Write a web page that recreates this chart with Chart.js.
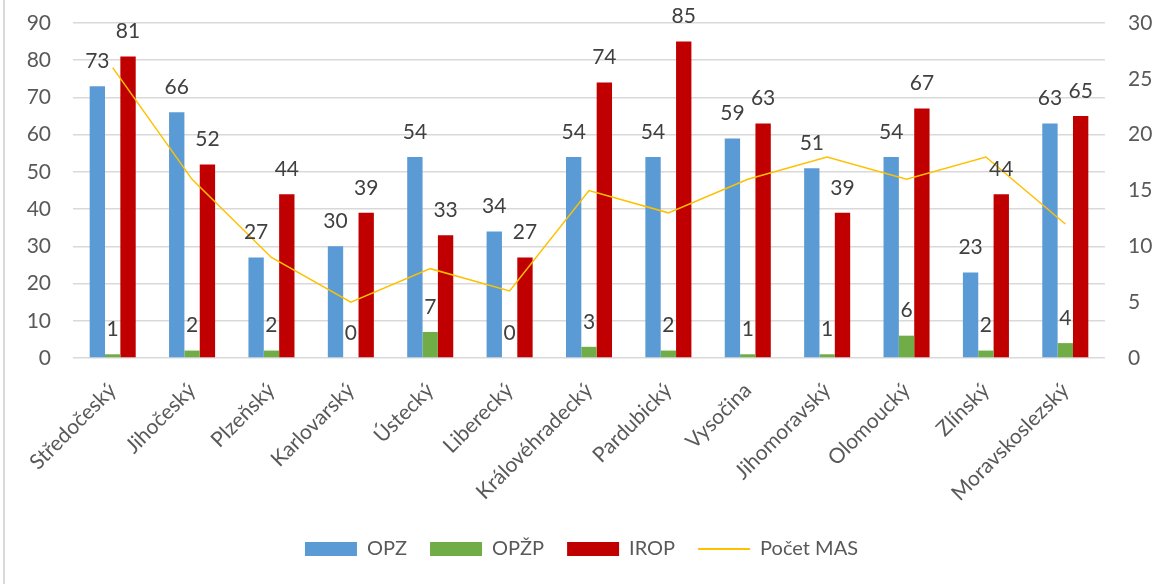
<!DOCTYPE html>
<html>
<head>
<meta charset="utf-8">
<script src="https://cdn.jsdelivr.net/npm/chart.js@4/dist/chart.umd.min.js"></script>
<style>
  html, body { margin: 0; padding: 0; background: #fff; }
  #wrap { width: 1163px; height: 584px; position: relative; }
</style>
</head>
<body>
<div id="wrap"><canvas id="chart" width="1163" height="584"></canvas></div>
<script>
// data
var regions = ["Středočeský", "Jihočeský", "Plzeňský", "Karlovarský", "Ústecký", "Liberecký",
  "Královéhradecký", "Pardubický", "Vysočina", "Jihomoravský", "Olomoucký", "Zlínský", "Moravskoslezský"];
var opz   = [73, 66, 27, 30, 54, 34, 54, 54, 59, 51, 54, 23, 63];
var opzp  = [1, 2, 2, 0, 7, 0, 3, 2, 1, 1, 6, 2, 4];
var irop  = [81, 52, 44, 39, 33, 27, 74, 85, 63, 39, 67, 44, 65];
var pocetMas = [26, 16, 9, 5, 8, 6, 15, 13, 16, 18, 16, 18, 12];

var FONT = "Lato";
var TXT = "#595959";

// value labels above the bars
var barLabels = {
  id: "barLabels",
  afterDatasetsDraw: function(chart) {
    var ctx = chart.ctx;
    ctx.save();
    ctx.font = "21px " + FONT;
    ctx.fillStyle = "#404040";
    ctx.textAlign = "center";
    ctx.textBaseline = "middle";
    chart.data.datasets.forEach(function(ds, i) {
      if (ds.type === "line") return;
      var meta = chart.getDatasetMeta(i);
      meta.data.forEach(function(bar, j) {
        ctx.fillText(ds.data[j], bar.x, bar.y - 25);
      });
    });
    ctx.restore();
  }
};

// light frame edge on the left
var frame = {
  id: "frame",
  beforeDraw: function(chart) {
    var ctx = chart.ctx;
    ctx.save();
    ctx.fillStyle = "#d9d9d9";
    ctx.fillRect(3, 0, 2, chart.height);
    ctx.restore();
  }
};

// fixed widths for the value axes, without the extra tick padding on top
function fixSide(w) {
  return function(scale) {
    scale.width = w;
    scale.paddingTop = 11;
    scale.paddingBottom = 11;
  };
}

var ctx = document.getElementById("chart").getContext("2d");
var chart = new Chart(ctx, {
  data: {
    labels: regions,
    datasets: [
      { type: "bar", label: "OPZ", data: opz, backgroundColor: "#5B9BD5", yAxisID: "y", order: 1 },
      { type: "bar", label: "OPŽP", data: opzp, backgroundColor: "#70AD47", yAxisID: "y", order: 1 },
      { type: "bar", label: "IROP", data: irop, backgroundColor: "#C00000", yAxisID: "y", order: 1 },
      { type: "line", label: "Počet MAS", data: pocetMas, borderColor: "#FFC000", backgroundColor: "#FFC000",
        borderWidth: 1.5, pointRadius: 0, tension: 0, yAxisID: "y1", order: 0 }
    ]
  },
  options: {
    responsive: false,
    animation: false,
    layout: { padding: { top: 23, left: 0, right: 0, bottom: 15 } },
    datasets: { bar: { barPercentage: 1, categoryPercentage: 0.58 } },
    plugins: {
      tooltip: { enabled: false },
      legend: {
        position: "bottom",
        labels: {
          font: { family: FONT, size: 20 },
          color: TXT,
          usePointStyle: true,
          pointStyleWidth: 52,
          boxHeight: 14,
          padding: 23,
          sort: function(a, b) { return a.datasetIndex - b.datasetIndex; },
          generateLabels: function(chart) {
            return chart.data.datasets.map(function(ds, i) {
              return {
                text: ds.label,
                datasetIndex: i,
                fillStyle: ds.backgroundColor,
                strokeStyle: ds.type === "line" ? ds.borderColor : ds.backgroundColor,
                lineWidth: ds.type === "line" ? 2 : 0,
                pointStyle: ds.type === "line" ? "line" : "rect",
                fontColor: TXT
              };
            });
          }
        }
      }
    },
    scales: {
      x: {
        grid: { display: false },
        border: { display: false },
        ticks: { font: { family: FONT, size: 21 }, color: TXT, maxRotation: 45, minRotation: 45, padding: 12 },
        afterFit: function(scale) { scale.height = 158; }
      },
      y: {
        position: "left",
        min: 0, max: 90,
        ticks: { stepSize: 10, font: { family: FONT, size: 21 }, color: TXT, padding: 22 },
        grid: { color: "#d9d9d9", lineWidth: 1.5, drawTicks: false },
        border: { display: false },
        afterFit: fixSide(73)
      },
      y1: {
        position: "right",
        min: 0, max: 30,
        ticks: { stepSize: 5, font: { family: FONT, size: 21 }, color: TXT, padding: 23 },
        grid: { display: false, drawTicks: false },
        border: { display: false },
        afterFit: fixSide(58)
      }
    }
  },
  plugins: [barLabels, frame]
});
</script>
</body>
</html>
